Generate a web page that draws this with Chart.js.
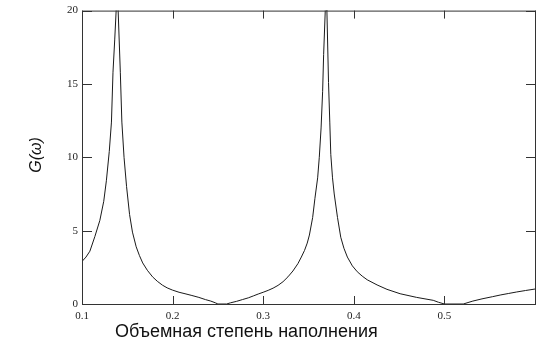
<!DOCTYPE html>
<html>
<head>
<meta charset="utf-8">
<script src="https://cdn.jsdelivr.net/npm/chart.js@4"></script>
<style>
  html, body { margin: 0; padding: 0; background: #fff; overflow: hidden; }
  #wrap { width: 538px; height: 341px; overflow: hidden; }
</style>
</head>
<body>
<div id="wrap"><canvas id="chart" width="541" height="341"></canvas></div>
<script>
// volume filling fraction (x) and G(omega) response (y)
const fillFraction = [
  0.1000, 0.1044, 0.1087, 0.1142, 0.1197, 0.1240, 0.1269, 0.1301, 0.1325, 0.1342,
  0.1361, 0.1377, 0.1388, 0.1399, 0.1423, 0.1440, 0.1464, 0.1492, 0.1525, 0.1557,
  0.1598, 0.1634, 0.1670, 0.1721, 0.1779, 0.1831, 0.1889, 0.1940, 0.1998, 0.2071,
  0.2137, 0.2213, 0.2290, 0.2363, 0.2421, 0.2472, 0.2500, 0.2596, 0.2639, 0.2705,
  0.2770, 0.2836, 0.2891, 0.2945, 0.3000, 0.3055, 0.3109, 0.3164, 0.3219, 0.3273,
  0.3328, 0.3383, 0.3421, 0.3456, 0.3486, 0.3510, 0.3546, 0.3571, 0.3601, 0.3619,
  0.3639, 0.3656, 0.3667, 0.3685, 0.3694, 0.3703, 0.3721, 0.3735, 0.3746, 0.3765,
  0.3784, 0.3820, 0.3856, 0.3891, 0.3929, 0.3984, 0.4038, 0.4093, 0.4148, 0.4257,
  0.4366, 0.4511, 0.4694, 0.4877, 0.4934, 0.5000, 0.5208, 0.5314, 0.5415, 0.5532,
  0.5623, 0.5710, 0.5798, 0.5896, 0.6000
];
const gValues = [
  2.9, 3.2, 3.6, 4.6, 5.7, 7.0, 8.4, 10.4, 12.4, 15.8,
  18.0, 20.0, 21.0, 20.0, 15.8, 12.4, 10.0, 8.0, 6.1, 4.9,
  3.9, 3.3, 2.8, 2.3, 1.85, 1.55, 1.28, 1.1, 0.95, 0.8,
  0.7, 0.58, 0.45, 0.3, 0.2, 0.08, 0, 0, 0.08, 0.18,
  0.3, 0.42, 0.55, 0.68, 0.8, 0.93, 1.08, 1.27, 1.52, 1.85,
  2.25, 2.75, 3.2, 3.65, 4.15, 4.7, 5.9, 7.2, 8.6, 10.0,
  12.0, 14.5, 17.0, 20.0, 21.0, 20.0, 15.1, 12.4, 10.2, 8.6,
  7.5, 5.9, 4.55, 3.8, 3.2, 2.6, 2.2, 1.9, 1.65, 1.3,
  1.0, 0.7, 0.45, 0.25, 0.12, 0, 0, 0.2, 0.35, 0.5,
  0.62, 0.72, 0.82, 0.92, 1.02
];
const xTicks = [0.1, 0.2, 0.3, 0.4, 0.5, 0.6];
const yTicks = [0, 5, 10, 15, 20];
const xTitle = "Объемная степень наполнения";
const yTitle = "G(ω)";

const serif = "'Liberation Serif', 'DejaVu Serif', serif";
const sans = "'Liberation Sans', Arial, sans-serif";

// box frame with inward tick marks on all four sides, plus axis titles
const framePlugin = {
  id: "frame",
  afterDatasetsDraw(chart) {
    const { ctx, chartArea: a, scales: { x, y } } = chart;
    ctx.save();
    ctx.strokeStyle = "#333";
    ctx.lineWidth = 1;
    ctx.strokeRect(a.left + 0.5, a.top + 0.5, a.right - a.left, a.bottom - a.top);
    ctx.beginPath();
    xTicks.forEach(v => {
      const px = Math.round(x.getPixelForValue(v)) + 0.5;
      ctx.moveTo(px, a.bottom); ctx.lineTo(px, a.bottom - 8);
      ctx.moveTo(px, a.top); ctx.lineTo(px, a.top + 8);
    });
    yTicks.forEach(v => {
      const py = Math.round(y.getPixelForValue(v)) + 0.5;
      ctx.moveTo(a.left, py); ctx.lineTo(a.left + 10, py);
      ctx.moveTo(a.right, py); ctx.lineTo(a.right - 9, py);
    });
    ctx.stroke();

    ctx.fillStyle = "#111";
    ctx.font = "18px " + sans;
    ctx.textAlign = "left";
    ctx.textBaseline = "alphabetic";
    ctx.fillText(xTitle, 115, 337);

    ctx.translate(41, 155);
    ctx.rotate(-Math.PI / 2);
    ctx.textAlign = "center";
    ctx.font = "italic 16px " + sans;
    ctx.fillText(yTitle, 0, 0);
    ctx.restore();
  }
};

const ctx = document.getElementById("chart").getContext("2d");
const chart = new Chart(ctx, {
  type: "line",
  data: {
    datasets: [{
      data: fillFraction.map((f, i) => ({ x: f, y: gValues[i] })),
      borderColor: "#1a1a1a",
      borderWidth: 1,
      pointRadius: 0,
      tension: 0,
      fill: false
    }]
  },
  options: {
    responsive: false,
    animation: false,
    layout: { padding: { top: 8, right: 2, left: 0, bottom: 0 } },
    plugins: { legend: { display: false }, tooltip: { enabled: false } },
    scales: {
      x: {
        type: "linear",
        min: 0.1,
        max: 0.6,
        afterBuildTicks: s => { s.ticks = xTicks.map(v => ({ value: v })); },
        afterFit: s => { s.height = 37; },
        grid: { display: false, drawTicks: false },
        border: { display: false },
        ticks: {
          autoSkip: false,
          maxRotation: 0,
          padding: 6,
          color: "#222",
          font: { family: serif, size: 11 },
          callback: v => (v > 0.55 ? "" : v.toFixed(1))
        }
      },
      y: {
        min: 0,
        max: 20,
        afterBuildTicks: s => { s.ticks = yTicks.map(v => ({ value: v })); },
        afterFit: s => { s.width = 82; },
        grid: { display: false, drawTicks: false },
        border: { display: false },
        ticks: {
          padding: 4,
          color: "#222",
          font: { family: serif, size: 11 }
        }
      }
    }
  },
  plugins: [framePlugin]
});
</script>
</body>
</html>
